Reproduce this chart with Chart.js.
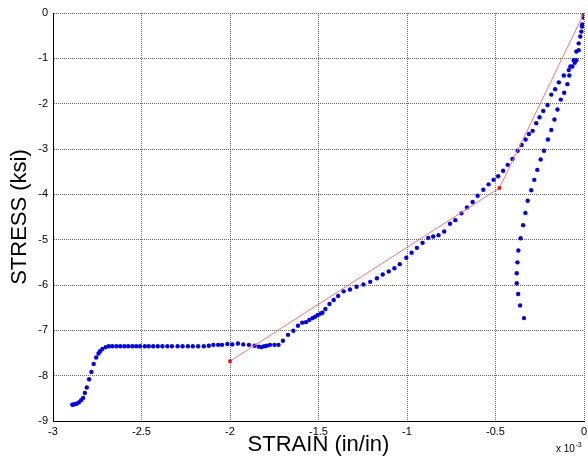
<!DOCTYPE html>
<html>
<head>
<meta charset="utf-8">
<script src="https://cdn.jsdelivr.net/npm/chart.js@4"></script>
<style>
  html, body { margin: 0; padding: 0; background: #fff; }
  #chartStress { display: block; }
</style>
</head>
<body>
<canvas id="chartStress" width="588" height="459"></canvas>
<script>
// strain in units of 1e-3 in/in, stress in ksi
const strain_medida = [
  -2.891, -2.880, -2.867, -2.854, -2.841, -2.830, -2.820, -2.809, -2.796, -2.783,
  -2.770, -2.756, -2.743, -2.734, -2.721, -2.702, -2.685, -2.665, -2.642, -2.620,
  -2.597, -2.575, -2.552, -2.530, -2.508, -2.481, -2.459, -2.434, -2.408, -2.382,
  -2.354, -2.328, -2.296, -2.268, -2.238, -2.210, -2.180, -2.148, -2.120, -2.094,
  -2.067, -2.045, -2.015, -1.987, -1.955, -1.925, -1.893, -1.861, -1.837, -1.822,
  -1.807, -1.792, -1.774, -1.749, -1.726, -1.701, -1.672, -1.642, -1.616, -1.592,
  -1.571, -1.552, -1.534, -1.519, -1.504, -1.487, -1.478, -1.461, -1.438, -1.414,
  -1.389, -1.358, -1.322, -1.285, -1.246, -1.208, -1.170, -1.137, -1.103, -1.071,
  -1.041, -1.004, -0.974, -0.944, -0.912, -0.880, -0.852, -0.822, -0.790, -0.757,
  -0.727, -0.693, -0.661, -0.629, -0.601, -0.569, -0.539, -0.511, -0.485, -0.457,
  -0.431, -0.404, -0.375, -0.352, -0.330, -0.311, -0.290, -0.270, -0.251, -0.230,
  -0.206, -0.185, -0.163, -0.142, -0.114, -0.086, -0.066, -0.052, -0.043, -0.030,
  -0.021, -0.011, -0.002,
  // descarga
  -0.003, -0.010, -0.015, -0.030, -0.043, -0.058, -0.077, -0.083, -0.094, -0.112,
  -0.131, -0.150, -0.167, -0.185, -0.204, -0.226, -0.245, -0.264, -0.281, -0.298,
  -0.318, -0.331, -0.344, -0.358, -0.371, -0.376, -0.380, -0.380, -0.372, -0.361,
  -0.339
];
const stress_medida = [
  -8.64, -8.63, -8.62, -8.59, -8.54, -8.49, -8.38, -8.26, -8.08, -7.92,
  -7.74, -7.60, -7.51, -7.46, -7.41, -7.37, -7.35, -7.35, -7.35, -7.35,
  -7.35, -7.35, -7.35, -7.35, -7.35, -7.35, -7.35, -7.35, -7.35, -7.35,
  -7.35, -7.35, -7.35, -7.35, -7.35, -7.35, -7.35, -7.35, -7.34, -7.32,
  -7.32, -7.32, -7.30, -7.31, -7.29, -7.31, -7.32, -7.34, -7.36, -7.37,
  -7.35, -7.34, -7.32, -7.32, -7.32, -7.23, -7.10, -7.01, -6.90, -6.83,
  -6.82, -6.77, -6.73, -6.70, -6.66, -6.63, -6.61, -6.53, -6.42, -6.33,
  -6.24, -6.14, -6.10, -6.04, -5.99, -5.93, -5.85, -5.77, -5.70, -5.63,
  -5.54, -5.40, -5.29, -5.18, -5.07, -4.96, -4.93, -4.90, -4.82, -4.65,
  -4.57, -4.42, -4.29, -4.17, -4.03, -3.90, -3.78, -3.68, -3.60, -3.48,
  -3.35, -3.22, -3.04, -2.91, -2.79, -2.67, -2.60, -2.43, -2.30, -2.16,
  -2.03, -1.80, -1.68, -1.53, -1.38, -1.26, -1.18, -1.10, -1.04, -0.82,
  -0.52, -0.30, -0.04,
  -0.10, -0.25, -0.41, -0.67, -0.85, -1.04, -1.18, -1.38, -1.57, -1.76,
  -1.91, -2.13, -2.35, -2.58, -2.79, -3.04, -3.23, -3.46, -3.68, -3.91,
  -4.14, -4.41, -4.68, -4.97, -5.24, -5.50, -5.74, -5.96, -6.20, -6.45,
  -6.73
];

const strain_modelo = [0, -0.478, -2];
const stress_modelo = [0, -3.86, -7.68];

const x_ticks = [-3, -2.5, -2, -1.5, -1, -0.5, 0];
const y_ticks = [0, -1, -2, -3, -4, -5, -6, -7, -8, -9];

const FUENTE = "'Liberation Sans', Arial, Helvetica, sans-serif";

const puntos = strain_medida.map((x, i) => ({ x: x, y: stress_medida[i] }));
const modelo = strain_modelo.map((x, i) => ({ x: x, y: stress_modelo[i] }));

const gridOpts = { color: 'rgba(0,0,0,0.6)', drawTicks: false };
const borderOpts = { display: true, color: '#000', width: 1, dash: [1, 1] };

const chartEl = document.getElementById('chartStress');
const chart = new Chart(chartEl, {
    type: 'scatter',
    data: {
        datasets: [{
            label: 'Medido',
            data: puntos,
            showLine: false,
            pointRadius: 2.2,
            pointBackgroundColor: '#0000ff',
            pointBorderWidth: 0,
            order: 2,
        }, {
            label: 'Modelo',
            data: modelo,
            showLine: true,
            borderColor: '#ff7070',
            borderWidth: 1,
            pointStyle: 'rect',
            pointRadius: 2.4,
            pointBackgroundColor: '#ff0000',
            pointBorderWidth: 0,
            order: 1,
        }]
    },
    options: {
        responsive: false,
        animation: false,
        devicePixelRatio: 1,
        layout: { padding: { top: 13, right: 1, left: 0, bottom: 0 } },
        plugins: {
            legend: { display: false },
            tooltip: { enabled: false },
        },
        scales: {
            x: {
                type: 'linear',
                min: -3, max: 0,
                afterBuildTicks: s => { s.ticks = x_ticks.map(v => ({ value: v })); },
                afterFit: s => { s.height = 38; s.paddingLeft = 0; s.paddingRight = 0; },
                ticks: { color: '#000', padding: 4, maxRotation: 0, autoSkip: false,
                         font: { family: FUENTE, size: 11 }, callback: v => String(v) },
                grid: gridOpts,
                border: borderOpts,
                title: { display: true, text: 'STRAIN (in/in)', color: '#000',
                         font: { family: FUENTE, size: 22 }, padding: { top: 0, bottom: 1 } }
            },
            y: {
                type: 'linear',
                min: -9, max: 0,
                afterBuildTicks: s => { s.ticks = y_ticks.map(v => ({ value: v })); },
                afterFit: s => { s.width = 53; s.paddingTop = 0; s.paddingBottom = 0; },
                ticks: { color: '#000', padding: 5, autoSkip: false,
                         font: { family: FUENTE, size: 11 }, callback: v => String(v) },
                grid: gridOpts,
                border: borderOpts,
                title: { display: true, text: 'STRESS (ksi)', color: '#000',
                         font: { family: FUENTE, size: 22 }, padding: { top: 7, bottom: 0 } }
            }
        }
    },
    plugins: [{
        id: 'fondoYExponente',
        beforeDraw(chart) {
            const { ctx } = chart;
            ctx.save();
            ctx.fillStyle = '#fff';
            ctx.fillRect(0, 0, chart.width, chart.height);
            ctx.restore();
        },
        afterDraw(chart) {
            const { ctx, chartArea } = chart;
            ctx.save();
            ctx.fillStyle = '#000';
            ctx.textBaseline = 'alphabetic';
            ctx.textAlign = 'left';
            ctx.font = '10px ' + FUENTE;
            const x0 = chartArea.right - 28;
            const y0 = chartArea.bottom + 31;
            ctx.fillText('x 10', x0, y0);
            const w = ctx.measureText('x 10').width;
            ctx.font = '7px ' + FUENTE;
            ctx.fillText('-3', x0 + w + 0.5, y0 - 5);
            ctx.restore();
        }
    }]
});
</script>
</body>
</html>
